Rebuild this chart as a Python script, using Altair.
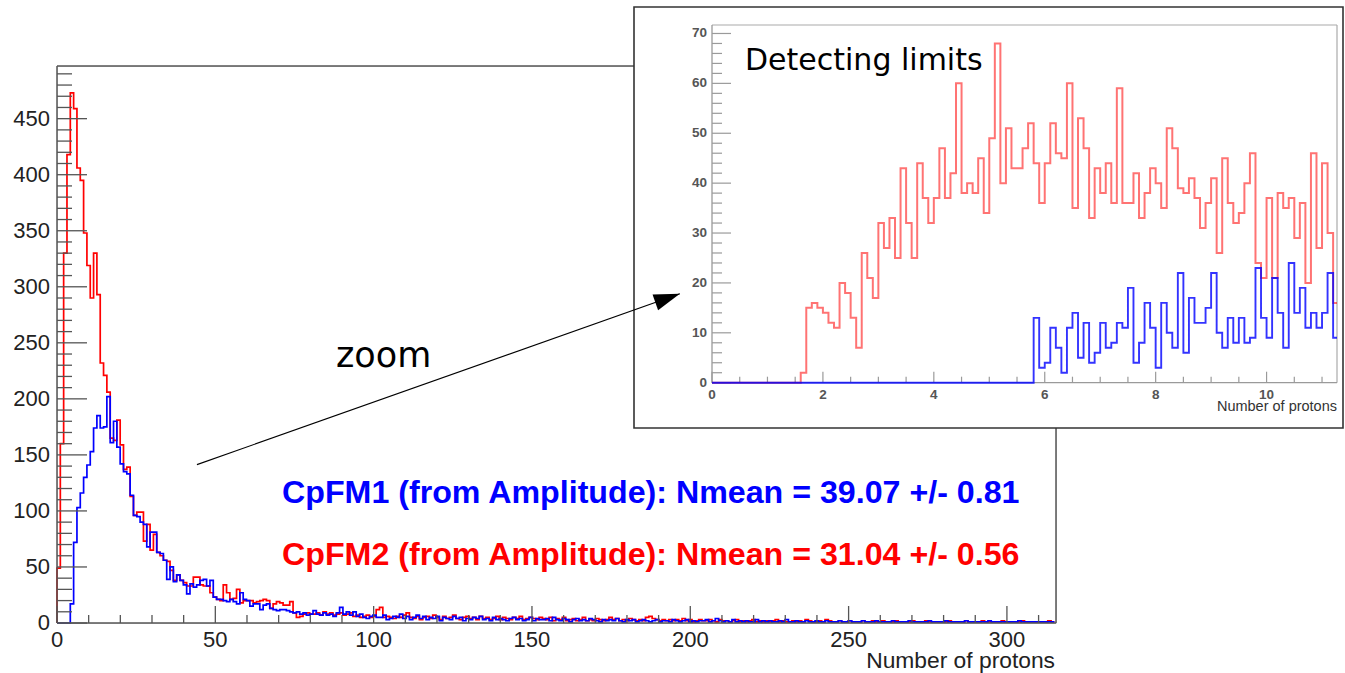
import altair as alt
import pandas as pd

# ---------------- main histogram: 300 bins of 1.05 protons ----------------
X_MAX = 315.5
Y_MAX = 497.0
BIN_W = 1.05

cpfm1_counts = [
    0, 0, 0, 0, 17, 72, 103, 116, 130, 141, 153, 174, 185, 174, 175, 202, 161, 180, 157, 142,
    135, 133, 114, 96, 95, 90, 88, 68, 81, 81, 63, 62, 56, 39, 50, 37, 43, 38, 34, 26,
    35, 32,
    34, 38, 39, 33, 38, 23, 21, 21, 20, 19, 21, 19, 17, 27, 21, 20, 15, 17, 17, 12,
    16, 17, 13, 12, 11, 12, 12, 11, 10, 9, 10, 8, 9, 7, 8, 11, 8, 7, 9, 7,
    8, 6, 9, 14, 8, 10, 7, 10, 6, 8, 5, 4, 6, 7, 5, 5,
    7, 3, 4, 6, 5, 8, 4, 6, 3, 5, 7, 4, 6, 3, 5, 4, 6, 2, 5, 4,
    3, 6, 4, 5, 2, 4, 3, 5, 4, 6, 3, 4, 2, 5, 3, 4, 3, 2, 4, 5,
    3, 4, 2, 3, 5, 2, 4, 3,
    3, 4, 2, 5, 3, 2, 4, 3, 1, 3, 4, 2, 3, 2, 4, 3, 2, 1, 3, 2,
    3, 2, 4, 2, 1, 3, 2, 3, 1, 2, 3, 2, 1, 2, 3, 1, 2, 2, 1, 3,
    2, 1, 2, 3, 1, 2, 1, 2, 2, 3, 1, 2, 4, 2, 1, 2, 1, 3, 1, 2,
    1, 2, 1, 1, 3, 1, 2, 1, 2, 1, 1, 2, 1, 3, 1, 1, 2, 1, 1, 2,
    1, 1, 2, 1, 1, 2, 1, 1, 1, 2, 1, 1, 2, 1, 1, 1, 2, 1, 1, 1,
    2, 1, 1, 1, 1, 2, 1, 1, 1, 1, 2, 1, 1, 1, 1, 1, 2, 1, 1, 1,
    1, 2, 1, 1, 1, 1, 1, 2, 1, 1, 1, 1, 1, 1, 2, 1, 1, 1, 1, 1,
    1, 1, 1, 2, 1, 1, 1, 1, 1, 1, 1, 1, 1, 1,
]

cpfm2_counts = [
    49, 160, 330, 418, 473, 459, 406, 395, 348, 319, 290, 330, 293, 232, 221, 206, 165, 163, 181, 159,
    137, 139, 113, 96, 99, 99, 73, 88, 65, 79, 63, 60, 56, 55, 47, 38, 43, 38, 36, 33,
    33, 41,
    41, 34, 33, 33, 27, 23, 21, 20, 34, 27, 21, 22, 30, 18, 20, 20, 20, 18, 19, 20,
    21, 20, 13, 17, 19, 18, 16, 16, 19, 9, 5, 6, 8, 9, 8, 8, 9, 7, 10, 8,
    9, 7, 8, 9, 7, 8, 9, 6, 7, 5, 6, 7, 5, 6, 12, 14,
    5, 6, 5, 4, 6, 5, 7, 9, 5, 4, 6, 3, 5, 6, 4, 7, 5, 3, 6, 4,
    5, 7, 4, 3, 5, 6, 4, 5, 3, 6, 4, 5, 3, 4, 6, 3, 5, 4, 3, 5,
    4, 6, 3, 4, 5, 4, 3, 5,
    4, 3, 5, 2, 4, 3, 5, 2, 3, 4, 2, 3, 5, 2, 3, 2, 4, 3, 2, 3,
    5, 3, 4, 2, 3, 2, 4, 3, 2, 3, 2, 5, 6, 4, 3, 2, 3, 2, 3, 2,
    3, 2, 4, 2, 3, 1, 2, 3, 2, 2, 3, 2, 1, 3, 2, 2, 1, 2, 3, 1,
    2, 1, 2, 3, 1, 2, 1, 2, 1, 2, 3, 1, 2, 1, 1, 2, 1, 2, 1, 3,
    2, 1, 1, 2, 1, 3, 2, 1, 1, 2, 1, 1, 2, 1, 1, 1, 2, 1, 1, 2,
    1, 1, 2, 1, 1, 1, 2, 1, 1, 1, 1, 2, 1, 1, 1, 2, 1, 1, 1, 1,
    1, 1, 2, 1, 1, 1, 1, 2, 1, 1, 1, 1, 2, 1, 1, 1, 1, 1, 2, 1,
    1, 1, 1, 1, 2, 1, 1, 1, 1, 1, 1, 1, 2, 1,
]

# ---------------- inset: 0.1-wide bins near the detection threshold ----------------
INSET_BIN = 0.1
INSET_X_MAX = 11.27
INSET_Y_MAX = 71.7

cpfm2_inset_start = 1.6
cpfm2_inset = [
    2, 15, 16, 15, 14, 12, 11, 20, 18, 13,
    7, 26, 21, 17, 32, 27, 33, 25, 43, 32,
    25, 44, 37, 32, 37, 47, 37, 42, 60, 38,
    40, 38, 45, 34, 49, 68, 40, 51, 43, 43,
    47, 52, 44, 36, 44, 52, 46, 45, 60, 35,
    53, 47, 33, 43, 38, 44, 36, 59, 36, 36,
    42, 33, 38, 43, 40, 35, 51, 47, 39, 38,
    41, 37, 31, 36, 41, 26, 45, 36, 32, 34,
    40, 46, 24, 21, 37, 21, 38, 35, 37, 29,
    36, 20, 46, 27, 44, 30, 16,
]

cpfm1_inset_start = 5.8
cpfm1_inset = [
    13, 3, 4, 11, 7, 2, 11, 14, 5, 12,
    4, 6, 12, 7, 8, 12, 11, 19, 4, 8,
    16, 11, 3, 16, 10, 7, 22, 6, 17, 12,
    12, 15, 22, 10, 7, 13, 8, 13, 8, 9,
    23, 13, 9, 21, 14, 7, 24, 14, 19, 11,
    14, 11, 14, 22, 9,
]

main_y_major = list(range(0, 451, 50))
main_y_minor = [v for v in range(10, 491, 10) if v % 50]
main_x_major = list(range(0, 301, 50))
main_x_minor = [v for v in range(10, 311, 10) if v % 50]

inset_y_major = list(range(0, 71, 10))
inset_y_minor = [v for v in range(2, 71, 2) if v % 10]
inset_x_major = list(range(0, 11, 2))
inset_x_minor = [v / 2 for v in range(1, 23) if v % 4]

# annotation arrow, in main-axis units: start point and tip
arrow_x = [44.2, 196.7]
arrow_y = [141.3, 293.8]

# ---------------- layout (pixels, relative to the main plot origin) ----------------
PLOT_W, PLOT_H = 999, 557
INSET_LEFT, INSET_RIGHT = 655, 1280
INSET_BOTTOM, INSET_TOP = 316.7, -41
FONT = "Liberation Sans"
FRAME = "#555555"
INSET_FRAME = "#9a9a9a"

XS = alt.Scale(domain=[0, X_MAX], nice=False, zero=False)
YS = alt.Scale(domain=[0, Y_MAX], nice=False)
XI = alt.Scale(domain=[0, INSET_X_MAX], range=[INSET_LEFT, INSET_RIGHT], nice=False, zero=False)
YI = alt.Scale(domain=[0, INSET_Y_MAX], range=[INSET_BOTTOM, INSET_TOP], nice=False)

ONE = pd.DataFrame({"k": [0]})


def step_frame(counts, width, start=0.0, x_end=None):
    xs, ys = [0.0, start], [0, 0]
    for k, c in enumerate(counts):
        xs.append(start + k * width)
        ys.append(c)
    end = start + len(counts) * width
    if x_end is not None:
        end = min(end, x_end)
    xs.append(end)
    ys.append(counts[-1])
    return pd.DataFrame({"order": list(range(len(xs))), "x": xs, "y": ys})


def hist_line(df, color, xs, ys, width=1.7, opacity=1.0):
    return alt.Chart(df).mark_line(
        interpolate="step-after", color=color, strokeWidth=width, opacity=opacity
    ).encode(
        x=alt.X("x:Q", scale=xs, axis=None),
        y=alt.Y("y:Q", scale=ys, axis=None),
        order="order:Q",
    )


def y_ticks(values, ys, x0, length, color, width):
    return alt.Chart(pd.DataFrame({"v": values})).mark_rule(color=color, strokeWidth=width).encode(
        y=alt.Y("v:Q", scale=ys, axis=None), x=alt.value(x0), x2=alt.value(x0 + length)
    )


def x_ticks(values, xs, y0, length, color, width):
    return alt.Chart(pd.DataFrame({"v": values})).mark_rule(color=color, strokeWidth=width).encode(
        x=alt.X("v:Q", scale=xs, axis=None), y=alt.value(y0), y2=alt.value(y0 - length)
    )


def seg(x1, y1, x2, y2, color, width):
    return alt.Chart(ONE).mark_rule(color=color, strokeWidth=width).encode(
        x=alt.value(x1), y=alt.value(y1), x2=alt.value(x2), y2=alt.value(y2)
    )


def label(text, x, y, size, color="#000000", align="left", baseline="alphabetic",
          weight="normal", font=FONT):
    return alt.Chart(pd.DataFrame({"t": [text]})).mark_text(
        align=align, baseline=baseline, fontSize=size, color=color, fontWeight=weight, font=font
    ).encode(x=alt.value(x), y=alt.value(y), text="t:N")


# ---------------- main panel ----------------
red_main = hist_line(step_frame(cpfm2_counts, BIN_W, x_end=X_MAX), "#ff0000", XS, YS)
blue_main = hist_line(step_frame(cpfm1_counts, BIN_W, x_end=X_MAX), "#0000ff", XS, YS)

y_lab = alt.Chart(pd.DataFrame({"v": main_y_major, "t": [str(v) for v in main_y_major]})).mark_text(
    align="right", baseline="middle", fontSize=22, color="#222222", font=FONT
).encode(y=alt.Y("v:Q", scale=YS, axis=None), x=alt.value(-7), text="t:N")

x_lab = alt.Chart(pd.DataFrame({"v": main_x_major, "t": [str(v) for v in main_x_major]})).mark_text(
    align="center", baseline="top", fontSize=22, color="#222222", font=FONT
).encode(x=alt.X("v:Q", scale=XS, axis=None), y=alt.value(PLOT_H + 7), text="t:N")

main = alt.layer(
    red_main,
    blue_main,
    y_ticks(main_y_major, YS, 0, 30, FRAME, 1.3),
    y_ticks(main_y_minor, YS, 0, 15, FRAME, 1.3),
    x_ticks(main_x_major, XS, PLOT_H, 17, FRAME, 1.3),
    x_ticks(main_x_minor, XS, PLOT_H, 8, FRAME, 1.3),
    seg(0, 0, 0, PLOT_H, FRAME, 1.5),
    seg(0, PLOT_H, PLOT_W, PLOT_H, FRAME, 1.5),
    seg(0, 0, 577, 0, FRAME, 1.5),
    seg(PLOT_W, 362, PLOT_W, PLOT_H, FRAME, 1.5),
    y_lab,
    x_lab,
    label("Number of protons", PLOT_W - 1, PLOT_H + 45, 22.8, "#222222", align="right"),
    label("CpFM1 (from Amplitude): Nmean = 39.07 +/- 0.81", 225, 437, 32.2, "#0000ff", weight="bold"),
    label("CpFM2 (from Amplitude): Nmean = 31.04 +/- 0.56", 225, 499, 32.2, "#ff0000", weight="bold"),
    label("zoom", 279, 301, 35, "#000000", font="DejaVu Sans"),
)

# ---------------- inset panel ----------------
inset_box = alt.Chart(ONE).mark_rect(fill="#ffffff", stroke="#333333", strokeWidth=1.6).encode(
    x=alt.value(577), x2=alt.value(1286), y=alt.value(-59), y2=alt.value(362)
)

red_inset = hist_line(
    step_frame(cpfm2_inset, INSET_BIN, cpfm2_inset_start, INSET_X_MAX), "#ff0000", XI, YI,
    width=2.0, opacity=0.55,
)
blue_inset = hist_line(
    step_frame(cpfm1_inset, INSET_BIN, cpfm1_inset_start, INSET_X_MAX), "#0000ff", XI, YI,
    width=1.9, opacity=0.8,
)

iy_lab = alt.Chart(pd.DataFrame({"v": inset_y_major, "t": [str(v) for v in inset_y_major]})).mark_text(
    align="right", baseline="middle", fontSize=13.5, fontWeight="bold", color="#555555", font=FONT
).encode(y=alt.Y("v:Q", scale=YI, axis=None), x=alt.value(INSET_LEFT - 5), text="t:N")

ix_lab = alt.Chart(pd.DataFrame({"v": inset_x_major, "t": [str(v) for v in inset_x_major]})).mark_text(
    align="center", baseline="top", fontSize=13.5, fontWeight="bold", color="#555555", font=FONT
).encode(x=alt.X("v:Q", scale=XI, axis=None), y=alt.value(INSET_BOTTOM + 5), text="t:N")

inset = alt.layer(
    inset_box,
    seg(INSET_LEFT, INSET_TOP, INSET_RIGHT, INSET_TOP, "#aaaaaa", 1.2),
    seg(INSET_RIGHT, INSET_TOP, INSET_RIGHT, INSET_BOTTOM, "#aaaaaa", 1.2),
    seg(INSET_LEFT, INSET_TOP, INSET_LEFT, INSET_BOTTOM, INSET_FRAME, 1.3),
    seg(INSET_LEFT, INSET_BOTTOM, INSET_RIGHT, INSET_BOTTOM, INSET_FRAME, 1.3),
    y_ticks(inset_y_major, YI, INSET_LEFT, 19, INSET_FRAME, 1.2),
    y_ticks(inset_y_minor, YI, INSET_LEFT, 10, INSET_FRAME, 1.2),
    x_ticks(inset_x_major, XI, INSET_BOTTOM, 11, INSET_FRAME, 1.2),
    x_ticks(inset_x_minor, XI, INSET_BOTTOM, 6, INSET_FRAME, 1.2),
    red_inset,
    blue_inset,
    iy_lab,
    ix_lab,
    label("Number of protons", INSET_RIGHT, 345, 14.5, "#333333", align="right"),
    label("Detecting limits", 688, 3.5, 30, "#000000", font="DejaVu Sans"),
)

# ---------------- arrow pointing into the inset, drawn on top ----------------
arrow_df = pd.DataFrame({"x": arrow_x, "y": arrow_y, "order": [0, 1]})
arrow_line = alt.Chart(arrow_df).mark_line(color="#000000", strokeWidth=1.1).encode(
    x=alt.X("x:Q", scale=XS, axis=None), y=alt.Y("y:Q", scale=YS, axis=None), order="order:Q"
)
arrow_head = alt.Chart(arrow_df.iloc[[1]]).mark_point(
    shape="M0,0 L-2,-0.64 L-2,0.64 Z", filled=True, color="#000000", opacity=1,
    size=676, angle=340.5,
).encode(x=alt.X("x:Q", scale=XS, axis=None), y=alt.Y("y:Q", scale=YS, axis=None))
arrow = alt.layer(arrow_line, arrow_head)

chart = (
    alt.layer(main, inset, arrow)
    .resolve_scale(x="independent", y="independent")
    .properties(
        width=PLOT_W,
        height=PLOT_H,
        padding={"left": 57, "top": 66, "right": 289, "bottom": 50},
        autosize=alt.AutoSizeParams(type="none"),
    )
    .configure_view(stroke=None)
    .configure(background="#ffffff", font=FONT)
)

chart.save("out.html", embed_options={"renderer": "svg", "actions": False})
